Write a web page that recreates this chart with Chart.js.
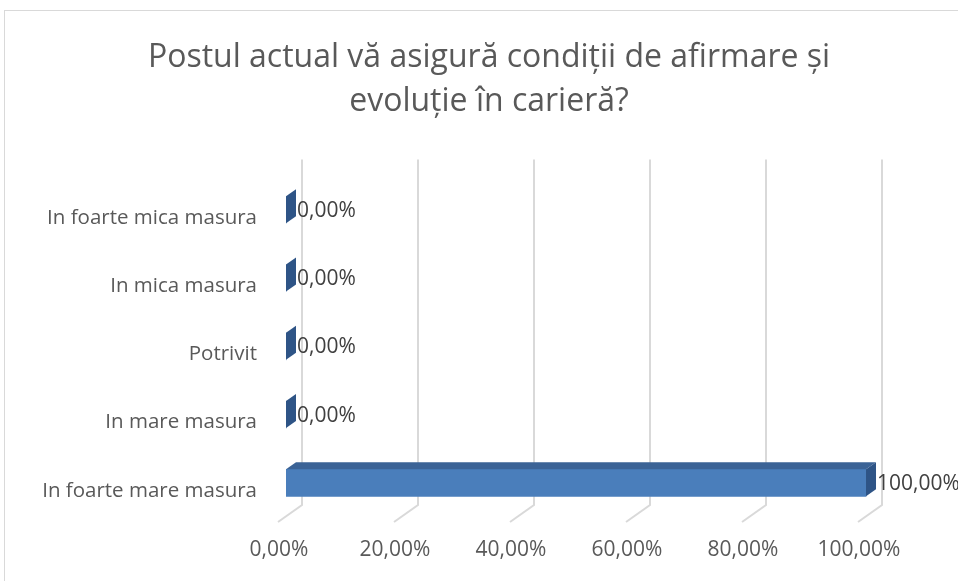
<!DOCTYPE html>
<html>
<head>
<meta charset="utf-8">
<script src="https://cdn.jsdelivr.net/npm/chart.js@4/dist/chart.umd.min.js"></script>
<style>
  body { margin: 0; background: #fff; }
</style>
</head>
<body>
<canvas id="grafico" width="958" height="581"></canvas>
<script>
// === DADOS ===
const categorias = [
  "In foarte mica masura",
  "In mica masura",
  "Potrivit",
  "In mare masura",
  "In foarte mare masura",
];
const valores = [0, 0, 0, 0, 100];
const ticksX = [0, 20, 40, 60, 80, 100];
const rotulosX = ["0,00%", "20,00%", "40,00%", "60,00%", "80,00%", "100,00%"];
const titulo = ["Postul actual vă asigură condiții de afirmare și", "evoluție în carieră?"];

const DX = 10, DY = 7; // profundidade 3D
const corFrente = "#4a7ebb";
const corTopo = "#3b6396";
const corLado = "#2e5486";
const corGrade = "#d9d9d9";
const corTexto = "#595959";

const fmt = (v) => v.toFixed(2).replace(".", ",") + "%";

Chart.defaults.font.family = "'Open Sans', sans-serif";

// === plugin 3D: grade, faces, rótulos ===
const plugin3d = {
  id: "plugin3d",
  beforeDraw(chart) {
    const ctx = chart.ctx;
    ctx.save();
    ctx.fillStyle = "#fff";
    ctx.fillRect(0, 0, chart.width, chart.height);
    ctx.strokeStyle = "#d9d9d9";
    ctx.lineWidth = 1;
    ctx.strokeRect(4.5, 10.5, 1000, 1000);
    ctx.restore();
  },
  beforeDatasetsDraw(chart) {
    const { ctx, chartArea, scales } = chart;
    const topo = chartArea.top - 16;
    const fundo = chartArea.bottom - 12;
    const frente = chartArea.bottom + 5;
    ctx.save();
    ctx.strokeStyle = corGrade;
    ctx.lineWidth = 2;
    ticksX.forEach((v) => {
      const p = scales.x.getPixelForValue(v);
      ctx.beginPath();
      ctx.moveTo(p + 16, topo);
      ctx.lineTo(p + 16, fundo);
      ctx.lineTo(p - 8, frente);
      ctx.stroke();
    });
    ctx.restore();
  },
  afterDatasetsDraw(chart) {
    const ctx = chart.ctx;
    const meta = chart.getDatasetMeta(0);
    ctx.save();
    meta.data.forEach((bar, i) => {
      const t = bar.y - bar.height / 2;
      const b = bar.y + bar.height / 2;
      // topo
      ctx.fillStyle = corTopo;
      ctx.beginPath();
      ctx.moveTo(bar.base, t);
      ctx.lineTo(bar.base + DX, t - DY);
      ctx.lineTo(bar.x + DX, t - DY);
      ctx.lineTo(bar.x, t);
      ctx.closePath();
      ctx.fill();
      // lado
      ctx.fillStyle = corLado;
      ctx.beginPath();
      ctx.moveTo(bar.x, t);
      ctx.lineTo(bar.x + DX, t - DY);
      ctx.lineTo(bar.x + DX, b - DY);
      ctx.lineTo(bar.x, b);
      ctx.closePath();
      ctx.fill();
      // rótulo do valor
      ctx.fillStyle = "#404040";
      ctx.font = "21px 'Open Sans', sans-serif";
      ctx.textAlign = "left";
      ctx.textBaseline = "middle";
      ctx.fillText(fmt(valores[i]), bar.x + DX + 1, bar.y + 1);
    });
    ctx.restore();
  },
  afterDraw(chart) {
    const ctx = chart.ctx;
    ctx.save();
    ctx.fillStyle = corTexto;
    ctx.font = "21px 'Open Sans', sans-serif";
    ctx.textAlign = "center";
    ctx.textBaseline = "middle";
    ticksX.forEach((v, i) => {
      ctx.fillText(rotulosX[i], chart.scales.x.getPixelForValue(v) - 7, 550);
    });
    ctx.restore();
  },
};

new Chart(document.getElementById("grafico"), {
  type: "bar",
  data: {
    labels: categorias,
    datasets: [
      {
        data: valores,
        backgroundColor: corFrente,
        barThickness: 27,
      },
    ],
  },
  options: {
    indexAxis: "y",
    responsive: false,
    animation: false,
    layout: { padding: { left: 20, right: 0, top: 0, bottom: 64 } },
    plugins: {
      legend: { display: false },
      tooltip: { enabled: false },
      title: {
        display: true,
        text: titulo,
        color: corTexto,
        font: { size: 32, weight: "normal", lineHeight: 1.4 },
        padding: { top: 35, bottom: 51 },
      },
    },
    scales: {
      x: {
        display: false,
        min: 0,
        max: 115.86,
      },
      y: {
        grid: { display: false },
        border: { display: false },
        ticks: {
          color: corTexto,
          font: { size: 20.5 },
          padding: 21,
          labelOffset: 8,
        },
        afterFit(scale) {
          scale.width = 266;
        },
      },
    },
  },
  plugins: [plugin3d],
});
</script>
</body>
</html>
